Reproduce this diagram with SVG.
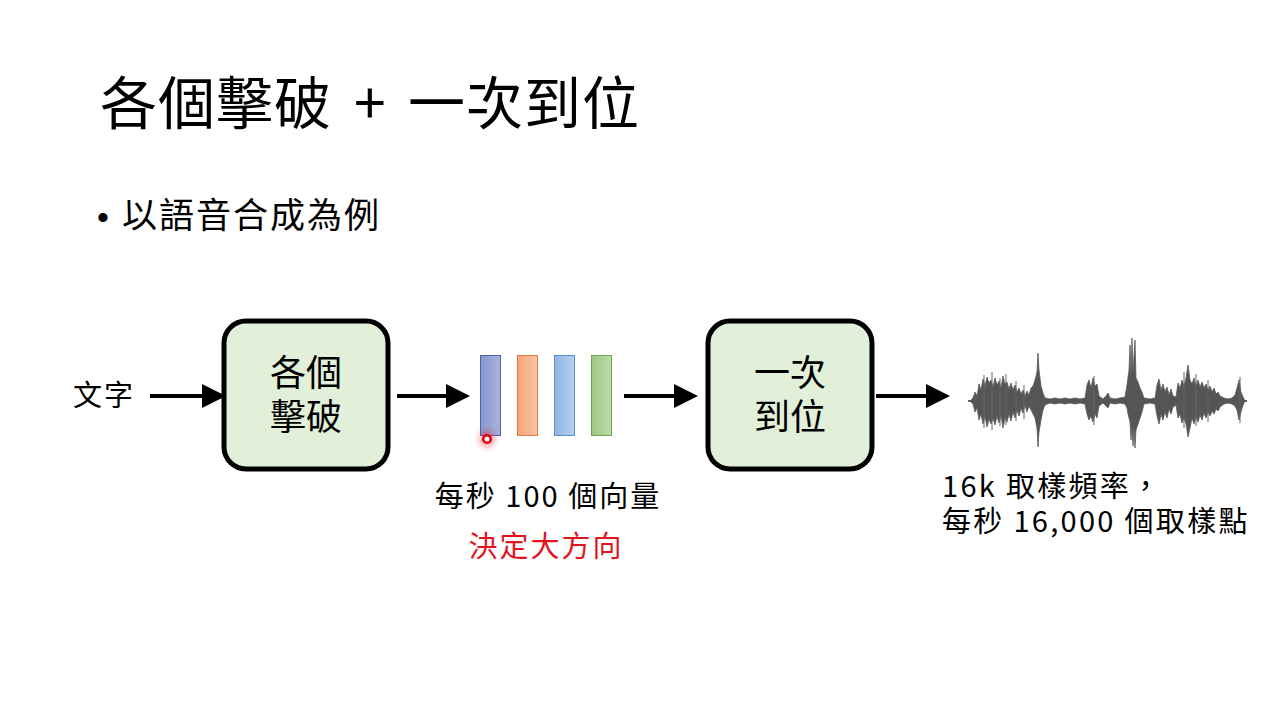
<svg xmlns="http://www.w3.org/2000/svg" width="1280" height="720" viewBox="0 0 1280 720">
<style>
text{font-family:"Noto Sans CJK TC","Noto Sans CJK SC",sans-serif;fill:#000}
.box{fill:#e2efd9;stroke:#000;stroke-width:5}
.lbl{font-size:29px;letter-spacing:1.6px}
.bx{font-size:36px;text-anchor:middle}
.conn{stroke:#000;stroke-width:4;fill:none}
</style>
<defs>
<marker id="ah" markerWidth="6" markerHeight="6" refX="5" refY="3" orient="auto" markerUnits="strokeWidth">
<path d="M0,0 L6,3 L0,6 Z" fill="#000"/>
</marker>
<linearGradient id="g1" x1="0" x2="1"><stop offset="0" stop-color="#8797cf"/><stop offset="1" stop-color="#a8b3de"/></linearGradient>
<linearGradient id="g2" x1="0" x2="1"><stop offset="0" stop-color="#f4a57c"/><stop offset="1" stop-color="#f8c4a6"/></linearGradient>
<linearGradient id="g3" x1="0" x2="1"><stop offset="0" stop-color="#8fb5e3"/><stop offset="1" stop-color="#b7cfee"/></linearGradient>
<linearGradient id="g4" x1="0" x2="1"><stop offset="0" stop-color="#9cc883"/><stop offset="1" stop-color="#bcdaa8"/></linearGradient>
<filter id="glow" x="-1" y="-1" width="3" height="3"><feGaussianBlur stdDeviation="3"/></filter>
</defs>

<g id="title"><text x="100" y="124" font-size="57" letter-spacing="1">各個擊破</text><text x="354" y="124" font-size="57">+</text><text x="408" y="124" font-size="57" letter-spacing="1">一次到位</text></g>
<g id="bullet"><text x="97" y="229" font-size="34" style="font-family:'Liberation Sans',sans-serif">•</text><text x="122" y="228" font-size="35" letter-spacing="2">以語音合成為例</text></g>

<g id="connectors">
<line class="conn" x1="150" y1="396" x2="222" y2="396" marker-end="url(#ah)"/>
<line class="conn" x1="397" y1="396" x2="466" y2="396" marker-end="url(#ah)"/>
<line class="conn" x1="624" y1="396" x2="694" y2="396" marker-end="url(#ah)"/>
<line class="conn" x1="876" y1="396" x2="946" y2="396" marker-end="url(#ah)"/>
</g>

<g id="input"><text class="lbl" x="73" y="406" style="letter-spacing:2px">文字</text></g>

<g id="node-gegejipo"><rect class="box" x="224" y="321" width="164" height="148" rx="22"/><text class="bx"><tspan x="306" y="386">各個</tspan><tspan x="306" y="430">擊破</tspan></text></g>

<g id="vectors">
<rect x="480.5" y="355.5" width="20" height="80" fill="url(#g1)" stroke="#4a65ad"/>
<rect x="517.5" y="355.5" width="20" height="80" fill="url(#g2)" stroke="#e07a3d"/>
<rect x="554.5" y="355.5" width="20" height="80" fill="url(#g3)" stroke="#5b8fd0"/>
<rect x="591.5" y="355.5" width="20" height="80" fill="url(#g4)" stroke="#6aa84f"/>
<circle cx="487" cy="439" r="8" fill="#ff2020" opacity="0.45" filter="url(#glow)"/>
<circle cx="487" cy="439" r="3.8" fill="#fff" stroke="#e00010" stroke-width="2.6"/>
<text class="lbl" x="548" y="507" text-anchor="middle" style="letter-spacing:2px">每秒 100 個向量</text>
<text class="lbl" x="546" y="557" text-anchor="middle" style="fill:#e3141e;letter-spacing:2px">決定大方向</text>
</g>

<g id="node-yicidaowei"><rect class="box" x="708" y="321" width="164" height="148" rx="22"/><text class="bx"><tspan x="790" y="386">一次</tspan><tspan x="790" y="430">到位</tspan></text></g>

<g id="waveform">
<line x1="968" y1="401" x2="1247" y2="401" stroke="#666" stroke-width="2"/>
<polygon fill="#555" stroke="#5a5a5a" stroke-width="0.8" stroke-linejoin="round" points="970,401 973,398 975,392 977,396 979,384 981,390 983,379 985,386 987,377 989,383 991,380 993,387 995,378 997,385 999,381 1001,388 1003,376 1005,384 1007,382 1009,389 1011,383 1013,390 1015,385 1017,392 1019,388 1021,394 1023,390 1025,396 1027,391 1029,395 1031,388 1033,386 1035,380 1037,372 1038,353 1039,370 1041,386 1043,393 1045,398 1050,399 1055,398 1060,399 1065,398 1070,399 1075,398 1080,399 1085,398 1087,385 1089,380 1091,388 1093,378 1095,386 1097,384 1099,396 1103,399 1106,396 1108,393 1110,398 1115,399 1120,398 1125,397 1127,385 1129,370 1130,345 1131,375 1132,338 1133,372 1135,340 1136,378 1138,382 1140,388 1142,392 1144,398 1150,399 1155,398 1157,385 1159,379 1161,390 1163,384 1165,392 1167,387 1169,395 1171,389 1173,396 1176,397 1178,383 1180,388 1182,380 1184,386 1186,378 1188,365 1190,380 1192,384 1194,378 1196,386 1198,380 1200,387 1202,382 1204,388 1206,384 1208,390 1210,386 1212,392 1214,388 1216,394 1218,392 1220,396 1224,398 1228,399 1232,398 1235,395 1237,388 1239,380 1241,392 1243,397 1245,401 1243,405 1241,412 1239,420 1237,410 1235,406 1232,404 1228,403 1224,404 1220,407 1218,411 1216,409 1214,414 1212,411 1210,416 1208,412 1206,418 1204,413 1202,420 1200,415 1198,422 1196,417 1194,424 1192,418 1190,428 1188,437 1186,424 1184,418 1182,423 1180,414 1178,418 1176,405 1173,407 1171,414 1169,409 1167,418 1165,412 1163,420 1161,414 1159,424 1157,416 1155,404 1150,403 1144,404 1142,412 1140,418 1138,424 1136,430 1135,448 1134,428 1133,446 1132,426 1131,440 1130,422 1128,414 1127,408 1125,404 1120,403 1115,404 1110,403 1108,408 1106,406 1103,403 1099,406 1097,418 1095,414 1093,422 1091,416 1089,420 1087,414 1085,404 1080,403 1075,404 1070,403 1065,404 1060,403 1055,404 1050,403 1045,405 1043,410 1041,420 1039,432 1038,447 1037,428 1035,418 1033,414 1031,410 1029,406 1027,412 1025,405 1023,413 1021,408 1019,416 1017,410 1015,418 1013,412 1011,421 1009,414 1007,422 1005,418 1003,428 1001,415 999,423 997,416 995,425 993,418 991,424 989,419 987,427 985,416 983,424 981,414 979,420 977,408 975,412 973,404"/>
<path d="M984,375V428 M992,372V430 M1000,378V426 M1006,374V425 M1016,381V421 M1024,385V419 M1094,376V425 M1184,372V428 M1196,374V426 M1208,380V422 M1240,377V423" stroke="#666" stroke-width="1"/>
</g>

<g id="output-label"><text class="lbl" style="letter-spacing:2.3px"><tspan x="942" y="497">16k 取樣頻率，</tspan><tspan x="942" y="532">每秒 16,000 個取樣點</tspan></text></g>
</svg>
